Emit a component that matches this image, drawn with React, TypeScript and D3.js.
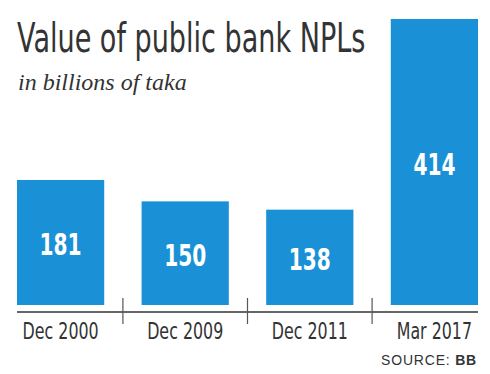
import React from "react";
import * as d3 from "d3";

const W = 490;
const H = 374;

const periods = ["Dec 2000", "Dec 2009", "Dec 2011", "Mar 2017"];
const npl = [181, 150, 138, 414];

const BLUE = "#1a91d6";
const INK = "#333333";
const SANS = "'DejaVu Sans', sans-serif";

// no condensed face installed, so squeeze DejaVu horizontally
const Narrow = ({ x, y, sx, children, ...rest }: any) => (
  <g transform={`translate(${x},${y}) scale(${sx},1)`}>
    <text x={0} y={0} fontFamily={SANS} {...rest}>
      {children}
    </text>
  </g>
);

const App = () => {
  const xScale = d3.scaleBand().domain(periods).range([17, 478]).paddingInner(0.3).paddingOuter(0);
  const yScale = d3.scaleLinear().domain([0, 414]).range([305, 19]);
  const axisY = 312;

  // tick marks sit halfway between bars
  const step = xScale.step();
  const dividers = periods.slice(1).map((p) => (xScale(p) as number) - (step - xScale.bandwidth()) / 2);

  return (
    <svg
      width={W}
      height={H}
      style={{ position: "absolute", left: 0, top: 0, background: "#fff" }}
    >
      <Narrow x={17} y={52} sx={0.66} fontSize={41} fill={INK}>
        Value of public bank NPLs
      </Narrow>
      <text x={18} y={90} fontFamily="'Liberation Serif', serif" fontStyle="italic" fontSize={24} fill={INK}>
        in billions of taka
      </text>

      <g>
        {periods.map((p, i) => {
          const x = xScale(p) as number;
          const y = yScale(npl[i]);
          const h = yScale(0) - y;
          const cx = x + xScale.bandwidth() / 2;
          return (
            <g key={p}>
              <rect x={x} y={y} width={xScale.bandwidth()} height={h} fill={BLUE} />
              <Narrow
                x={cx}
                y={y + h / 2 + 2}
                sx={0.65}
                textAnchor="middle"
                dominantBaseline="central"
                fontWeight="bold"
                fontSize={31}
                fill="#fff"
              >
                {npl[i]}
              </Narrow>
              <Narrow x={cx} y={339} sx={0.69} textAnchor="middle" fontSize={23} fill={INK}>
                {p}
              </Narrow>
            </g>
          );
        })}
      </g>

      <line x1={17} x2={478} y1={axisY} y2={axisY} stroke={INK} strokeWidth={1.5} />
      {dividers.map((d, i) => (
        <line key={i} x1={d} x2={d} y1={298} y2={324} stroke="#555" strokeWidth={1.2} />
      ))}

      <text
        x={477}
        y={365}
        textAnchor="end"
        fontFamily="'Liberation Sans', Arial, sans-serif"
        fontSize={14}
        letterSpacing={0.8}
        fill={INK}
      >
        SOURCE: <tspan fontWeight="bold">BB</tspan>
      </text>
    </svg>
  );
};

export default App;
